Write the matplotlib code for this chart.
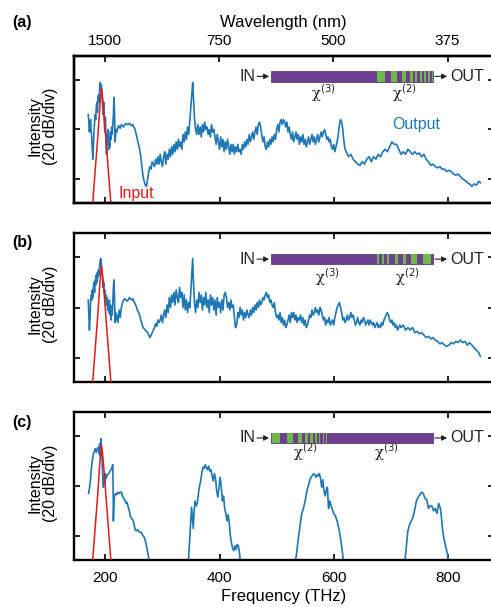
import matplotlib
matplotlib.use("Agg")
import matplotlib.pyplot as plt
from matplotlib.patches import Rectangle, FancyArrowPatch
import numpy as np

plt.rcParams['font.family'] = ['Liberation Sans', 'DejaVu Sans']

# ---------------- data ----------------
freq_a = [170,171,172,173,174,175,176,177,178,179,
          180,181,182,183,184,185,186,187,188,189,
          190,191,192,193,194,195,196,197,198,199,
          200,201,202,203,204,205,206,207,208,209,
          210,211,212,213,214,215,216,217,218,219,
          220,222,224,226,228,230,232,234,236,238,
          240,242,244,246,248,250,252,254,256,258,
          260,262,264,266,268,270,272,274,276,278,
          280,282,284,286,288,290,292,294,296,298,
          300,302,304,306,308,310,312,314,316,318,
          320,322,324,326,328,330,332,334,336,338,
          340,342,344,346,348,350,352,353,354,356,
          358,360,362,364,366,368,370,372,374,376,
          378,380,382,384,386,388,390,392,394,396,
          398,400,402,404,406,408,410,412,414,416,
          418,420,422,424,426,428,430,432,434,436,
          438,440,442,444,446,448,450,452,454,456,
          458,460,462,464,466,468,470,472,474,476,
          478,480,482,484,486,488,490,492,494,496,
          498,500,502,504,506,508,510,512,514,516,
          518,520,522,524,526,528,530,532,534,536,
          538,540,542,544,546,548,550,552,554,556,
          558,560,562,564,566,568,570,572,574,576,
          578,580,582,584,586,588,590,592,594,596,
          598,600,602,604,606,608,610,612,614,616,
          618,620,622,626,630,634,638,642,646,650,
          654,658,662,666,670,674,678,682,686,690,
          694,698,702,706,710,714,718,722,726,730,
          734,738,742,746,750,754,758,762,766,770,
          774,778,782,786,790,794,798,802,806,810,
          814,818,822,826,830,834,838,842,846,850,
          854,857]
int_a = [-14,-17,-21,-18,-16,-20,-23,-28,-32,-26,
         -21,-17,-14,-16,-11,-9,-13,-7,-6,-9,
         -3,-1,-4,-2,-6,-10,-14,-9,-17,-21,
         -15,-25,-30,-22,-26,-20,-28,-23,-27,-21,
         -24,-19,-22,-18,-14,-7,-13,-25,-22,-20,
         -21,-19,-18.5,-19.5,-18,-18.5,-19,-18,-17.5,-18,
         -18,-17.5,-18,-18.5,-18,-19,-20,-22,-24,-26,
         -28,-31,-35,-39,-41,-42.5,-43,-40,-37,-35,
         -36,-33,-34,-35,-32,-34,-31,-34,-30,-33,
         -35,-31,-29,-34,-30,-32,-28,-31,-27,-30,
         -26,-29,-25,-28,-24,-27,-25,-28,-22,-25,
         -21,-24,-19,-22,-16,-10,-4,-1,-6,-15,
         -20,-22,-18,-22,-19,-23,-18,-21,-17,-20,
         -19,-22,-20,-23,-18,-21,-20,-23,-26,-22,
         -25,-28,-23,-27,-24,-29,-25,-28,-24,-27,
         -30,-26,-29,-26,-30,-27,-29,-26,-29,-28,
         -30,-26,-28,-25,-27,-24,-26,-22,-25,-23,
         -21,-24,-21,-19,-22,-18,-17,-19,-22,-25,
         -23,-27,-28,-25,-27,-24,-26,-23,-25,-22,
         -24,-20,-18,-21,-17,-16,-18,-16,-17,-19,
         -17,-21,-19,-22,-24,-21,-25,-23,-21,-24,
         -22,-26,-23,-25,-22,-26,-24,-27,-25,-23,
         -26,-24,-22,-25,-23,-26,-24,-22,-25,-23,
         -21,-23,-21,-20,-22,-24,-23,-25,-24,-27,
         -28,-26,-29,-27,-25,-22,-18,-16,-17,-20,
         -25,-28,-29,-31,-30,-32,-33,-34,-34.5,-33,
         -34,-32,-31,-33,-31,-32,-30,-31,-29,-28,
         -29,-27,-25,-26,-26,-28,-30,-29,-30,-28,
         -29,-30,-29,-30,-29.5,-31,-30,-32,-33,-34.5,
         -34,-35,-35.5,-35,-36,-36,-37,-36.5,-37,-38,
         -38.5,-38,-39,-40,-40.5,-41.5,-42,-43,-42,-42.5,
         -41,-41.5]

freq_b = [170,171,172,173,174,175,176,177,178,179,
          180,181,182,183,184,185,186,187,188,189,
          190,191,192,193,194,195,196,197,198,199,
          200,201,202,203,204,205,206,207,208,209,
          210,211,212,213,214,215,216,217,218,219,
          220,222,224,226,228,230,232,234,236,238,
          240,242,244,246,248,250,252,254,256,258,
          260,262,264,266,268,270,272,274,276,278,
          280,282,284,286,288,290,292,294,296,298,
          300,302,304,306,308,310,312,314,316,318,
          320,322,324,326,328,330,332,334,336,338,
          340,342,344,346,348,350,352,353,354,356,
          358,360,362,364,366,368,370,372,374,376,
          378,380,382,384,386,388,390,392,394,396,
          398,400,402,404,406,408,410,412,414,416,
          418,420,422,424,426,428,430,432,434,436,
          438,440,442,444,446,448,450,452,454,456,
          458,460,462,464,466,468,470,472,474,476,
          478,480,482,484,486,488,490,492,494,496,
          498,500,502,504,506,508,510,512,514,516,
          518,520,522,524,526,528,530,532,534,536,
          538,540,542,544,546,548,550,552,554,556,
          558,560,562,564,566,568,570,572,574,576,
          578,580,582,584,586,588,590,592,594,596,
          598,600,602,604,606,608,610,612,614,616,
          618,620,622,624,626,628,630,632,634,636,
          638,640,642,644,646,648,650,652,654,656,
          658,660,662,664,666,668,670,672,674,676,
          678,680,682,684,686,688,690,692,694,696,
          698,700,702,704,706,708,710,712,714,716,
          718,722,726,730,734,738,742,746,750,754,
          758,762,766,770,774,778,782,786,790,794,
          798,802,806,810,814,818,822,826,830,834,
          838,842,846,850,854,857]
int_b = [-17,-23,-29,-25,-18,-15,-17,-13,-16,-12,
         -10,-14,-9,-11,-7,-10,-6,-8,-5,-7,
         -3,-1,-0.5,-3,-6,-9,-12,-10,-14,-13,
         -17,-15,-19,-16,-21,-18,-22,-17,-23,-19,
         -25,-20,-23,-18,-12,-9,-16,-26,-22,-25,
         -23,-26,-21,-24,-20,-18,-17,-16.5,-17,-17.5,
         -17,-16,-16.5,-17,-16.5,-17.5,-18.5,-19.5,-21,-22,
         -23,-25,-26.5,-28,-28.5,-29,-29.5,-30,-31,-32,
         -31,-30,-29,-28,-26.5,-27.5,-25,-26,-25,-23,
         -26,-23,-21,-24,-19,-22,-16,-20,-15,-18,
         -14,-19,-13,-16,-18,-12,-16,-14,-20,-15,
         -21,-17,-22,-18,-20,-12,-4,-0.5,-8,-18,
         -22,-17,-20,-14,-18,-15,-21,-16,-19,-14,
         -20,-17,-22,-15,-19,-16,-21,-17,-23,-16,
         -20,-18,-22,-17,-21,-15,-14,-16,-20,-18,
         -21,-17,-20,-19,-24,-28,-27,-22,-24,-20,
         -23,-21,-25,-22,-24,-21,-23,-24,-21,-23,
         -20,-22,-19,-21,-18,-20,-17,-19,-18,-16,
         -17,-15,-14,-16,-15,-18,-17,-19,-20,-18,
         -22,-24,-23,-25,-22,-26,-24,-27,-25,-28,
         -27,-25,-23,-26,-22,-24,-22,-25,-23,-26,
         -24,-25,-23,-26,-24,-27,-25,-28,-27,-25,
         -23,-24,-21,-23,-22,-20,-22,-21,-23,-20,
         -21,-23,-25,-24,-27,-25,-26,-24,-27,-26,
         -25,-27,-24,-22,-20,-19,-18,-20,-22,-25,
         -24,-26,-25,-23,-25,-24,-22,-24,-23,-25,
         -27,-26,-24,-26,-27,-25,-26,-24,-25,-27,
         -26,-25,-27,-25,-26,-27,-26,-28,-27,-26,
         -28,-27,-28,-26,-27,-25,-24,-23,-22,-23,
         -25,-26,-25,-27,-26,-28,-27,-29,-28,-27,
         -28,-27,-29,-28,-29,-28,-30,-29.5,-30.5,-30,
         -31,-32,-31.5,-32.5,-32,-33,-33.5,-34.5,-34,-35,
         -35.5,-35,-34,-34.5,-33.5,-34,-33,-34,-33.5,-35,
         -34,-35,-36,-37,-38,-39.5]

nan = float('nan')
freq_c = [170.5,172,173.5,175,177,179,181,182.5,184,186,
          187.5,189,190,191,192,193,194,195,196,196.5,
          197.5,199,200,201,202.5,204,206,208,210,212,
          213,213.5,214,215,216,218,220,222,224,226,
          228,230,232,234,236,238,240,242,244,246,
          248,250,252,254,256,258,260,262,264,266,
          268,270,272,274,276,278, nan,
          345,347,349,351,352.5,354,355.5,357,359,361,
          363,365,367,369,371,373,375,377,379,381,
          383,385,387,389,391,393,395,397,399,401,
          403,405,407,409,411,413,415,417,419,421,
          423,425,427,429,431,433,435,437, nan,
          532,535,538,541,544,547,550,553,556,559,
          562,565,567,569,571,573,575,577,579,581,
          583,585,587,589,591,593,595,597,600,603,
          606,609,612,615,618, nan,
          724,727,730,733,736,739,742,745,748,751,
          754,757,760,763,766,769,772,775,778,781,
          784,787,789,791,793,795,797,800,802]
int_c = [-23,-21,-18.5,-14,-10,-7,-6,-5,-6.5,-5,
         -4.5,-7,-3,-8,-1,-5,-9,-14,-18,-20.5,
         -16,-19,-15,-17,-16,-15.5,-15,-14,-13.5,-12,
         -11.5,-20,-34,-27,-24,-23,-23.5,-22.5,-23,-22.5,
         -22.5,-24,-25,-25.5,-27,-26.5,-28.5,-30,-32.5,-33,
         -33.5,-35,-37.5,-38,-37.5,-38,-38.5,-38.5,-39,-40,
         -40.5,-42,-44,-46.5,-49,-52, nan,
         -52,-44,-36,-28.5,-33,-37,-30,-26,-28,-27,
         -23,-20,-18,-14.5,-12.5,-13,-11.5,-12.5,-13.5,-12,
         -14,-13.5,-16,-18,-15,-17,-22,-24.5,-21,-16.5,
         -20,-26,-24,-29,-31,-34,-31.5,-35,-40,-43,
         -45,-46,-44,-45.5,-43.5,-44,-47,-52, nan,
         -52,-47,-41,-36,-31,-29,-26,-22,-19.5,-17,
         -16,-15,-15.5,-16.5,-15.5,-16,-15,-17,-20.5,-17.5,
         -22,-24,-21.5,-20.5,-29,-26,-27.5,-29,-31,-32,
         -34,-37,-41,-46,-52, nan,
         -52,-45,-38,-35.5,-34,-32.5,-29.5,-26,-24.5,-23.5,
         -22.5,-23,-25,-25.5,-29,-28,-28,-30,-29,-31,
         -27,-29,-33,-38,-41,-43,-45,-48,-52]

freq_in = [175,178,181,184,187,189,190.5,192,193,194,195.5,197,199,202,205,208,211]
int_in = [-58,-49,-40,-31,-22,-15,-10,-6,-3.5,-5,-8,-12,-18,-27,-36,-45,-54]

freq_ticks = [200, 400, 600, 800]
wl_ticks = [1500, 750, 500, 375]
C_LIGHT = 299792.458  # nm*THz

# poling segments (positions along the chip, in units of chip length 162)
pol_a = [(105.7,114),(120,125.7),(130.7,134.7),(139,141.7),(144,146.3),
         (149,151),(153.3,155),(157.3,159),(161,162)]
pol_b = [(106,108.3),(111,113.3),(116,118.3),(124.3,127),(131.7,135),
         (140,146),(152,160.3)]
pol_c = [(1,9),(15.7,21.7),(26.7,30.7),(34.3,37),(39.3,41.7),(44,45.7),
         (47.7,49.3),(51.7,53),(55,56)]

BLUE = '#1f77b4'
RED = '#e31a1c'
PURPLE = '#6e3f91'
GREEN = '#6db848'
INK = '#222222'

W, H = 491, 607
RIGHT = 493.5
fig = plt.figure(figsize=(W/100, H/100), dpi=100)

def ax_rect(top, bot, left=74, right=RIGHT):
    return [left/W, 1-bot/H, (right-left)/W, (bot-top)/H]

AXW = RIGHT - 74
def fx(px):
    return (px - 74) / AXW

ax_a = fig.add_axes(ax_rect(56, 203))
ax_b = fig.add_axes(ax_rect(233, 382))
ax_c = fig.add_axes(ax_rect(412, 560))

for ax in (ax_a, ax_b, ax_c):
    ax.set_xlim(145, 880)
    ax.set_ylim(-49.7, 9.7)
    ax.set_xticks(freq_ticks)
    ax.set_yticks([0, -20, -40])
    ax.set_yticklabels([])
    ax.tick_params(direction='in', top=True, right=True, length=4.5, width=1.2,
                   labelsize=11, pad=8, labelbottom=False)
    for s in ax.spines.values():
        s.set_linewidth(1.7)
    ax.set_ylabel('Intensity\n(20 dB/div)', fontsize=11.5, linespacing=1.05)
    ax.yaxis.set_label_coords(fx(58), 0.52)

ax_c.tick_params(labelbottom=True)
ax_c.set_xlabel('Frequency (THz)', fontsize=12, labelpad=3)

ax_a.tick_params(top=False)
tw = ax_a.twiny()
tw.set_xlim(ax_a.get_xlim())
tw.set_xticks([C_LIGHT/w for w in wl_ticks])
tw.set_xticklabels([str(w) for w in wl_ticks])
tw.tick_params(direction='in', length=4.5, width=1.2, labelsize=11, pad=6)
tw.set_xlabel('Wavelength (nm)', fontsize=12, labelpad=5)
for s in tw.spines.values():
    s.set_linewidth(1.7)

ax_a.plot(freq_a, int_a, color=BLUE, lw=1.2, zorder=2)
ax_b.plot(freq_b, int_b, color=BLUE, lw=1.2, zorder=2)
ax_c.plot(freq_c, int_c, color=BLUE, lw=1.2, zorder=2)
for ax in (ax_a, ax_b, ax_c):
    ax.plot(freq_in, int_in, color=RED, lw=1.1, zorder=3)

ax_a.text(fx(416.7), 0.531, 'Output', color=BLUE, fontsize=11.5, ha='center', va='center',
          transform=ax_a.transAxes)
ax_a.text(fx(136), 0.068, 'Input', color=RED, fontsize=11.5, ha='center', va='center',
          transform=ax_a.transAxes)

BAR_X0 = fx(271)
BAR_X1 = fx(433)
def chip(ax, y0, y1, segs, chi_left, chi_right, ylab):
    L = BAR_X1 - BAR_X0
    ax.add_patch(Rectangle((BAR_X0, y0), L, y1-y0, transform=ax.transAxes,
                           facecolor=PURPLE, edgecolor='#4b2a66', lw=0.5, zorder=5, clip_on=False))
    for a, b in segs:
        ax.add_patch(Rectangle((BAR_X0 + L*a/162, y0), L*(b-a)/162, y1-y0, transform=ax.transAxes,
                               facecolor=GREEN, edgecolor='none', zorder=6, clip_on=False))
    yc = (y0+y1)/2
    ax.text(fx(255), yc, 'IN', fontsize=11.5, ha='right', va='center',
            transform=ax.transAxes, color=INK)
    ax.text(fx(450), yc, 'OUT', fontsize=11.5, ha='left', va='center',
            transform=ax.transAxes, color=INK)
    for xa, xb in ((fx(257), fx(269)), (fx(435), fx(447))):
        ax.add_patch(FancyArrowPatch((xa, yc), (xb, yc), transform=ax.transAxes,
                                     arrowstyle='-|>,head_length=3,head_width=1.6',
                                     lw=0.8, color=INK, zorder=6, clip_on=False,
                                     shrinkA=0, shrinkB=0))
    for xc, t in chi_left, chi_right:
        ax.text(fx(xc), ylab, 'χ$^{(' + t + ')}$', fontsize=10.5, ha='center', va='center',
                transform=ax.transAxes, color=INK, family=['DejaVu Serif', 'DejaVu Sans'])

chip(ax_a, 0.825, 0.898, pol_a, (323, '3'), (404, '2'), 0.748)
chip(ax_b, 0.790, 0.859, pol_b, (327, '3'), (407, '2'), 0.705)
chip(ax_c, 0.789, 0.860, pol_c, (305, '2'), (386, '3'), 0.726)

for lab, y in (('(a)', 22), ('(b)', 243), ('(c)', 422)):
    fig.text(22/W, 1-y/H, lab, fontsize=11.5, fontweight='bold', ha='center', va='center')

fig.savefig('out.png', dpi=100)
